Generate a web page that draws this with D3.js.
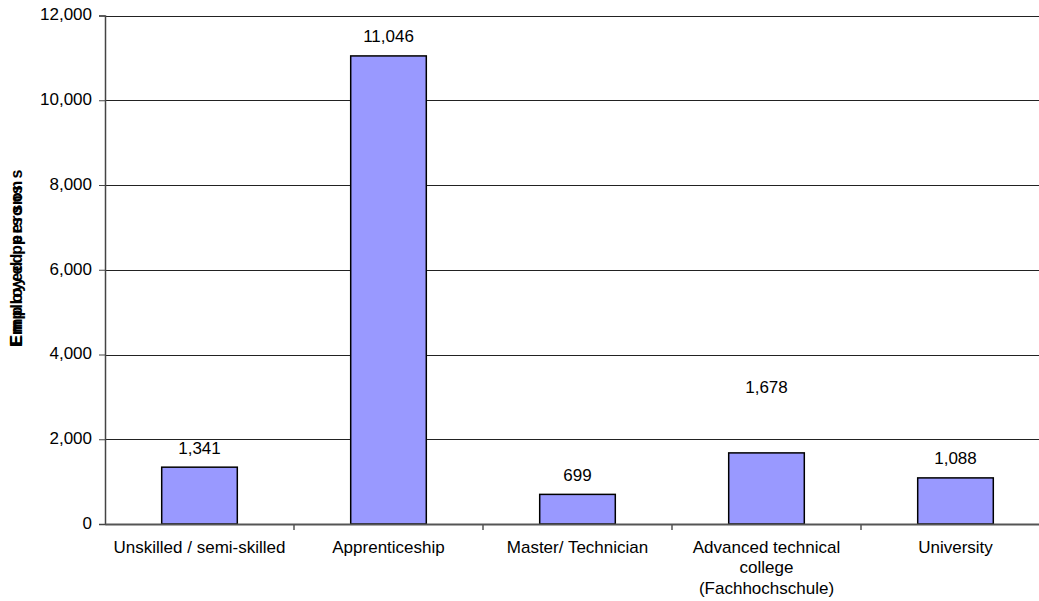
<!DOCTYPE html>
<html>
<head>
<meta charset="utf-8">
<script src="https://cdn.jsdelivr.net/npm/d3@7"></script>
<style>
  html, body { margin: 0; padding: 0; background: #fff; }
  svg { display: block; }
  text { font-family: "Liberation Sans", Arial, sans-serif; fill: #000; }
</style>
</head>
<body>
<svg id="chart" width="1039" height="601"></svg>
<script>
const categories = [
  ["Unskilled / semi-skilled"],
  ["Apprenticeship"],
  ["Master/ Technician"],
  ["Advanced technical", "college", "(Fachhochschule)"],
  ["University"]
];
const categoryKeys = ["Unskilled / semi-skilled", "Apprenticeship", "Master/ Technician", "Advanced technical college (Fachhochschule)", "University"];
const values = [1341, 11046, 699, 1678, 1088];
const yTicks = [0, 2000, 4000, 6000, 8000, 10000, 12000];
const yLabel = "Employed persons";

const svg = d3.select("#chart");
const mLeft = 105, mRight = 1050, mTop = 15.5, mBottom = 524;
const fs = 17;
// label placement nudges (styling, in px): the reference lifts one label higher
const labelLift = { 3: 46 };

const x = d3.scaleBand().domain(categoryKeys).range([mLeft, mRight]).paddingInner(0.6).paddingOuter(0.3);
const y = d3.scaleLinear().domain([0, 12000]).range([mBottom, mTop]);

// gridlines
svg.append("g").selectAll("line").data(yTicks.filter(d => d > 0)).join("line")
  .attr("x1", mLeft).attr("x2", mRight)
  .attr("y1", d => Math.round(y(d)) + 0.5).attr("y2", d => Math.round(y(d)) + 0.5)
  .attr("stroke", "#222").attr("stroke-width", 1);

// bars
svg.append("g").selectAll("rect").data(values).join("rect")
  .attr("x", (d, i) => x(categoryKeys[i]))
  .attr("width", x.bandwidth())
  .attr("y", d => y(d))
  .attr("height", d => y(0) - y(d))
  .attr("fill", "#9999FF")
  .attr("stroke", "#000").attr("stroke-width", 1.5);

// value labels
svg.append("g").selectAll("text").data(values).join("text")
  .attr("x", (d, i) => x(categoryKeys[i]) + x.bandwidth() / 2)
  .attr("y", (d, i) => y(d) - 13.5 - (labelLift[i] || 0))
  .attr("text-anchor", "middle")
  .attr("font-size", fs)
  .text(d => d3.format(",")(d));

// y axis
const yAxis = d3.axisLeft(y).tickValues(yTicks).tickFormat(d3.format(",")).tickSize(6).tickPadding(7);
const gy = svg.append("g").attr("transform", `translate(${mLeft},0)`).call(yAxis);
gy.select(".domain").attr("stroke", "#444").attr("stroke-width", 1.5);
gy.selectAll(".tick line").attr("stroke", "#444");
gy.selectAll(".tick text").attr("font-size", fs).attr("font-family", "Liberation Sans, Arial, sans-serif").attr("fill", "#000").attr("dy", "0.25em");

// x axis
const xAxis = d3.axisBottom(x).tickSize(0).tickFormat("");
const gx = svg.append("g").attr("transform", `translate(0,${mBottom})`).call(xAxis);
gx.select(".domain").attr("stroke", "#555").attr("stroke-width", 2);
const step = x.step();
const bounds = d3.range(1, categoryKeys.length + 1).map(i => mLeft + i * step);
svg.append("g").selectAll("line").data(bounds).join("line")
  .attr("x1", d => d).attr("x2", d => d)
  .attr("y1", mBottom).attr("y2", mBottom + 6)
  .attr("stroke", "#555").attr("stroke-width", 1.5);

// category labels
const lab = svg.append("g");
categories.forEach((lines, i) => {
  const cx = x(categoryKeys[i]) + x.bandwidth() / 2;
  const t = lab.append("text").attr("text-anchor", "middle").attr("font-size", fs);
  lines.forEach((ln, j) => {
    t.append("tspan").attr("x", cx).attr("y", 552.5 + j * 20.8).text(ln);
  });
});

// y label (overlapped rendering as in reference)
const yl = svg.append("g").attr("transform", "translate(22,347) rotate(-90)");
yl.append("text").attr("text-anchor", "start").attr("font-weight", "bold").attr("font-size", 16)
  .attr("textLength", 162).attr("lengthAdjust", "spacing").text(yLabel);
yl.append("text").attr("text-anchor", "start").attr("font-weight", "bold").attr("font-size", 16)
  .attr("x", 1.5).attr("textLength", 176).attr("lengthAdjust", "spacing").text(yLabel);
</script>
</body>
</html>
